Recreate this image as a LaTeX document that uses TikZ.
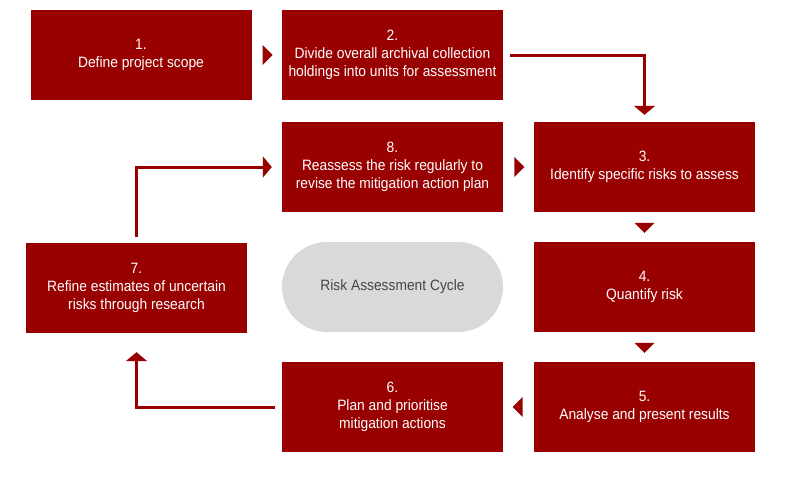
\documentclass[tikz,border=0pt]{standalone}
\usepackage{fontspec}
\setmainfont{Liberation Sans}[FakeStretch=0.92]
\usepackage{xcolor}
\usepackage{tikz}
\usetikzlibrary{shapes.geometric,arrows.meta}
\definecolor{riskred}{RGB}{153,0,0}
\definecolor{cyclegrey}{RGB}{217,217,217}
\definecolor{cycletext}{RGB}{70,70,70}
\tikzset{
  stepbox/.style={fill=riskred, text=white, minimum width=221pt, minimum height=90pt,
    inner sep=0pt, align=center, font=\fontsize{15}{18}\selectfont},
  cyclepill/.style={fill=cyclegrey, text=cycletext, minimum width=221pt, minimum height=90pt,
    rounded corners=45pt, inner sep=0pt, font=\fontsize{15}{18}\selectfont},
  gaptip/.style={fill=riskred, isosceles triangle, isosceles triangle stretches, sloped,
    allow upside down, minimum width=20pt, minimum height=10pt, inner sep=0pt},
  elbow/.style={draw=riskred, line width=3pt, -{Triangle[length=9pt,width=21pt]}}
}
\begin{document}
\begin{tikzpicture}[x=1pt,y=-1pt]
        \useasboundingbox (0,0) rectangle (785,485);
        \node[stepbox] (b1) at (141,55) {1.\\Define project scope};
        \node[stepbox] (b2) at (392.5,55) {2.\\Divide overall archival collection\\holdings into units for assessment};
        \node[stepbox] (b3) at (644.5,167) {3.\\Identify specific risks to assess};
        \node[stepbox] (b4) at (644.5,287) {4.\\Quantify risk};
        \node[stepbox] (b5) at (644.5,407) {5.\\Analyse and present results};
        \node[stepbox] (b6) at (392.5,407) {6.\\Plan and prioritise\\mitigation actions};
        \node[stepbox] (b7) at (136.5,288) {7.\\Refine estimates of uncertain\\risks through research};
        \node[stepbox] (b8) at (392.5,167) {8.\\Reassess the risk regularly to\\revise the mitigation action plan};
        \node[cyclepill] (cycle) at (392.5,287) {Risk Assessment Cycle};
        % small arrows in the gaps
        \path (b1) -- (b2) node[midway,gaptip] {};
        \path (b8) -- (b3) node[midway,gaptip] {};
        \path (b3) -- (b4) node[midway,gaptip] {};
        \path (b4) -- (b5) node[midway,gaptip] {};
        \path (b5) -- (b6) node[midway,gaptip] {};
        % elbow arrows
        \draw[elbow, shorten <=7pt, shorten >=7pt] (b2.east) -| (b3.north);
        \draw[elbow, shorten <=6pt, shorten >=10pt] (b7.north) |- (b8.west);
        \draw[elbow, shorten <=7pt, shorten >=19pt] (b6.west) -| (b7.south);
\end{tikzpicture}
\end{document}
